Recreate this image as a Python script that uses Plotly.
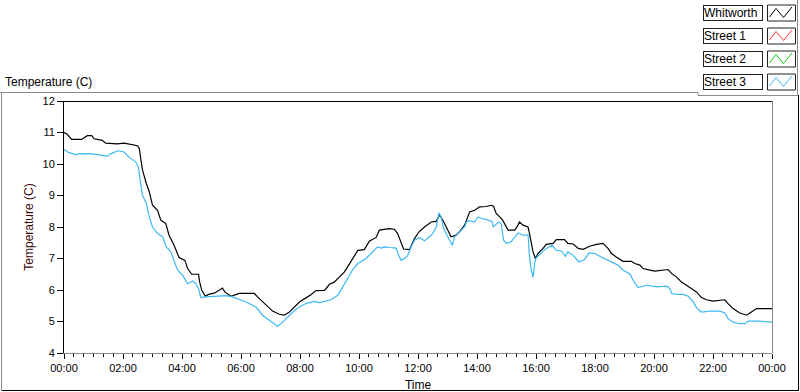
import plotly.graph_objects as go

# ---------------- data ----------------
series_names = ["Whitworth", "Street 1", "Street 2", "Street 3"]
series_colors = ["#000000", "#ff3b3b", "#17d317", "#3cb9f2"]

x_tick_vals = [0, 2, 4, 6, 8, 10, 12, 14, 16, 18, 20, 22, 24]
x_tick_text = ["00:00", "02:00", "04:00", "06:00", "08:00", "10:00", "12:00",
               "14:00", "16:00", "18:00", "20:00", "22:00", "00:00"]
y_tick_vals = [4, 5, 6, 7, 8, 9, 10, 11, 12]

# time in hours since midnight
whitworth_time = [
    0.00, 0.10, 0.26, 0.60, 0.79, 0.94, 1.02, 1.30, 1.41, 1.81, 2.04, 2.18, 2.49, 2.55,
    2.60, 2.66, 2.79, 2.89, 3.00, 3.17, 3.28, 3.45, 3.56, 3.73, 3.90, 4.10, 4.19, 4.33,
    4.56, 4.60, 4.67, 4.79, 4.90, 5.09, 5.26, 5.37, 5.45, 5.66, 5.94, 6.45, 6.56, 6.73,
    6.90, 7.07, 7.30, 7.47, 7.64, 7.81, 7.98, 8.20, 8.37, 8.54, 8.83, 9.00, 9.16, 9.33,
    9.50, 9.65, 9.79, 9.96, 10.18, 10.35, 10.58, 10.69, 11.03, 11.20, 11.31, 11.43,
    11.51, 11.71, 11.77, 11.88, 12.03, 12.22, 12.45, 12.62, 12.73, 12.77, 12.90, 13.01,
    13.12, 13.29, 13.41, 13.58, 13.75, 13.92, 14.09, 14.31, 14.48, 14.56, 14.65, 14.77,
    14.88, 15.05, 15.28, 15.39, 15.44, 15.56, 15.73, 15.78, 15.90, 15.98, 16.07, 16.24,
    16.35, 16.58, 16.69, 16.97, 17.08, 17.26, 17.43, 17.60, 17.82, 18.05, 18.27, 18.44,
    18.56, 18.72, 18.95, 19.23, 19.35, 19.52, 19.63, 19.86, 20.03, 20.48, 20.60, 20.77,
    20.93, 21.10, 21.27, 21.44, 21.61, 21.78, 22.00, 22.40, 22.51, 22.68, 22.91, 23.14,
    23.25, 23.48, 24.00]
whitworth_temp = [
    11.00, 10.95, 10.78, 10.78, 10.90, 10.90, 10.80, 10.75, 10.66, 10.64, 10.66, 10.63, 10.58, 10.50,
    10.12, 9.81, 9.38, 9.12, 8.69, 8.53, 8.22, 8.11, 7.74, 7.42, 7.03, 6.94, 6.68, 6.50,
    6.50, 6.25, 5.99, 5.80, 5.86, 5.90, 5.99, 6.06, 5.94, 5.80, 5.89, 5.89, 5.78, 5.62,
    5.46, 5.33, 5.23, 5.20, 5.30, 5.46, 5.62, 5.75, 5.85, 5.98, 5.99, 6.18, 6.25, 6.41,
    6.57, 6.79, 7.00, 7.26, 7.28, 7.55, 7.67, 7.90, 7.95, 7.93, 7.79, 7.53,
    7.30, 7.28, 7.42, 7.63, 7.84, 8.00, 8.16, 8.18, 8.38, 8.33, 8.11, 7.90,
    7.69, 7.74, 7.85, 8.06, 8.48, 8.53, 8.64, 8.65, 8.69, 8.66, 8.43, 8.32,
    8.20, 7.90, 7.90, 8.06, 8.16, 8.06, 8.00, 7.79, 7.21, 7.00, 7.16, 7.32,
    7.45, 7.48, 7.60, 7.60, 7.48, 7.46, 7.32, 7.29, 7.39, 7.45, 7.48, 7.32,
    7.16, 7.05, 6.91, 6.91, 6.84, 6.79, 6.68, 6.63, 6.60, 6.65, 6.52, 6.41,
    6.25, 6.15, 6.04, 5.94, 5.76, 5.69, 5.65, 5.69, 5.57, 5.41, 5.27, 5.20,
    5.27, 5.41, 5.41]

street3_time = [
    0.00, 0.17, 0.40, 0.57, 0.96, 1.47, 1.59, 1.84, 2.04, 2.21, 2.43, 2.52, 2.60, 2.66,
    2.79, 2.89, 3.00, 3.17, 3.34, 3.47, 3.62, 3.73, 3.85, 4.02, 4.19, 4.36, 4.47, 4.56,
    4.64, 4.81, 5.03, 5.49, 5.71, 6.17, 6.51, 6.73, 6.96, 7.24, 7.41, 7.58, 7.81, 7.98,
    8.20, 8.49, 8.66, 9.05, 9.28, 9.45, 9.62, 9.79, 9.96, 10.24, 10.41, 10.63, 10.75,
    10.86, 11.03, 11.26, 11.34, 11.43, 11.54, 11.65, 11.77, 11.88, 12.05, 12.22, 12.39,
    12.50, 12.62, 12.71, 12.79, 12.87, 13.01, 13.09, 13.16, 13.24, 13.41, 13.58, 13.64,
    13.75, 13.92, 14.03, 14.14, 14.31, 14.52, 14.54, 14.74, 14.82, 14.90, 14.99, 15.16,
    15.31, 15.39, 15.56, 15.73, 15.78, 15.84, 15.90, 15.95, 16.01, 16.18, 16.35, 16.55,
    16.69, 16.86, 17.00, 17.08, 17.26, 17.46, 17.65, 17.80, 17.99, 18.16, 18.38, 18.61,
    18.78, 18.95, 19.18, 19.29, 19.46, 19.63, 19.75, 20.09, 20.43, 20.54, 20.60, 20.77,
    20.99, 21.16, 21.33, 21.44, 21.61, 21.90, 22.23, 22.40, 22.51, 22.68, 22.91, 23.08,
    23.20, 23.60, 24.00]
street3_temp = [
    10.46, 10.36, 10.30, 10.33, 10.32, 10.25, 10.33, 10.42, 10.38, 10.21, 10.07, 9.91, 9.38, 9.01,
    8.75, 8.32, 8.00, 7.79, 7.69, 7.37, 7.21, 6.94, 6.63, 6.47, 6.20, 6.29, 6.20, 6.04,
    5.76, 5.78, 5.80, 5.82, 5.78, 5.62, 5.46, 5.20, 5.04, 4.85, 4.98, 5.14, 5.35, 5.46,
    5.57, 5.64, 5.60, 5.69, 5.83, 6.10, 6.36, 6.65, 6.84, 7.00, 7.16, 7.37, 7.33,
    7.37, 7.35, 7.33, 7.10, 6.94, 7.00, 7.10, 7.37, 7.58, 7.67, 7.56, 7.69,
    7.79, 8.00, 8.45, 8.30, 7.95, 7.69, 7.56, 7.42, 7.69, 7.85, 8.01, 8.16,
    8.20, 8.16, 8.32, 8.27, 8.24, 8.16, 8.00, 8.16, 8.11, 7.58, 7.48, 7.53,
    7.74, 7.81, 7.74, 7.74, 7.05, 6.63, 6.41, 6.84, 7.03, 7.18, 7.32, 7.42,
    7.26, 7.24, 7.07, 7.21, 7.10, 6.89, 6.97, 7.18, 7.16, 7.07, 6.97, 6.89,
    6.79, 6.63, 6.52, 6.31, 6.08, 6.12, 6.15, 6.10, 6.12, 6.04, 5.89, 5.86,
    5.86, 5.80, 5.62, 5.44, 5.30, 5.33, 5.33, 5.27, 5.09, 4.98, 4.93, 4.93,
    5.01, 5.01, 4.98]

# ---------------- layout geometry ----------------
W, H = 800, 392
L, R, T, B = 64, 28, 101, 39
PW = W - L - R
PH = H - T - B
FONT = "Liberation Sans, Arial, sans-serif"


def fx(x):
    return (x - L) / PW


def fy(y):
    return (H - B - y) / PH


fig = go.Figure()
fig.add_trace(go.Scatter(x=whitworth_time, y=whitworth_temp, mode="lines",
                         name=series_names[0], showlegend=False,
                         line=dict(color=series_colors[0], width=1.2)))
fig.add_trace(go.Scatter(x=street3_time, y=street3_temp, mode="lines",
                         name=series_names[3], showlegend=False,
                         line=dict(color=series_colors[3], width=1.2)))

shapes = []


def line(x0, y0, x1, y1, color, w=1):
    shapes.append(dict(type="line", xref="paper", yref="paper",
                       x0=fx(x0), y0=fy(y0), x1=fx(x1), y1=fy(y1),
                       line=dict(color=color, width=w)))


# plot frame: top black, right gray
line(63.5, 101.5, 772.5, 101.5, "#000000")
line(772.5, 101.5, 772.5, 353, "#8a8a8a")
# outer frame
line(0, 92.5, 698, 92.5, "#8a8a8a")
line(1.5, 92.5, 1.5, 390, "#8a8a8a")
line(1.5, 390.5, 798.5, 390.5, "#000000")
line(798.5, 95, 798.5, 391, "#000000")
# legend panel border
line(698, 92.5, 698, 95.5, "#8a8a8a")
line(698, 95.5, 797.5, 95.5, "#8a8a8a")
line(797.5, 0, 797.5, 95.5, "#8a8a8a")

annotations = []
legend_tops = [5, 28, 51, 74]
for name, color, top in zip(series_names, series_colors, legend_tops):
    annotations.append(dict(
        xref="paper", yref="paper", x=fx(702.5), y=fy(top), xanchor="left", yanchor="top",
        text=name, showarrow=False, align="left", width=58, height=14, borderpad=0,
        bordercolor="#222222", borderwidth=1, bgcolor="#ffffff",
        font=dict(family=FONT, size=12, color="#000000")))
    shapes.append(dict(type="rect", xref="paper", yref="paper",
                       x0=fx(767.5), x1=fx(795.5), y0=fy(top), y1=fy(top + 16),
                       line=dict(color="#222222", width=1), fillcolor="#ffffff"))
    pts = [(769.5, top + 12), (776, top + 3.5), (783.5, top + 12.5), (792, top + 2)]
    path = "M " + " L ".join(f"{fx(a):.5f},{fy(b):.5f}" for a, b in pts)
    shapes.append(dict(type="path", xref="paper", yref="paper", path=path,
                       line=dict(color=color, width=1)))

annotations.append(dict(xref="paper", yref="paper", x=fx(3), y=fy(82),
                        xanchor="left", yanchor="middle", showarrow=False,
                        text="Temperature (C)",
                        font=dict(family=FONT, size=12, color="#000000")))

fig.update_layout(
    width=W, height=H, autosize=False,
    margin=dict(l=L, r=R, t=T, b=B, pad=0),
    paper_bgcolor="#ffffff", plot_bgcolor="#ffffff",
    showlegend=False,
    font=dict(family=FONT, size=11, color="#000000"),
    shapes=shapes, annotations=annotations,
    xaxis=dict(range=[0, 24], tickmode="array", tickvals=x_tick_vals, ticktext=x_tick_text,
               automargin=False,
               ticks="outside", ticklen=5, tickwidth=1, tickcolor="#000000",
               minor=dict(tickmode="linear", tick0=0, dtick=1 / 3, ticks="outside",
                          ticklen=3, tickwidth=1, tickcolor="#000000", showgrid=False),
               showgrid=False, zeroline=False, showline=True, linecolor="#8a8a8a", linewidth=1,
               tickfont=dict(family=FONT, size=11, color="#000000"),
               title=dict(text="Time", standoff=7, font=dict(family=FONT, size=12, color="#000000"))),
    yaxis=dict(range=[4, 12], tickmode="array", tickvals=y_tick_vals,
               automargin=False,
               ticks="outside", ticklen=6, tickwidth=1, tickcolor="#000000",
               showgrid=False, zeroline=False, showline=True, linecolor="#000000", linewidth=1,
               tickfont=dict(family=FONT, size=11, color="#000000"),
               title=dict(text="Temperature (C)", standoff=6,
                          font=dict(family=FONT, size=12, color="#3a0a0a"))),
)

fig.write_html("out.html",
               config={"displayModeBar": False},
               post_script="document.body.style.margin='0';document.body.style.padding='0';"
                           "document.body.style.overflow='hidden';")
